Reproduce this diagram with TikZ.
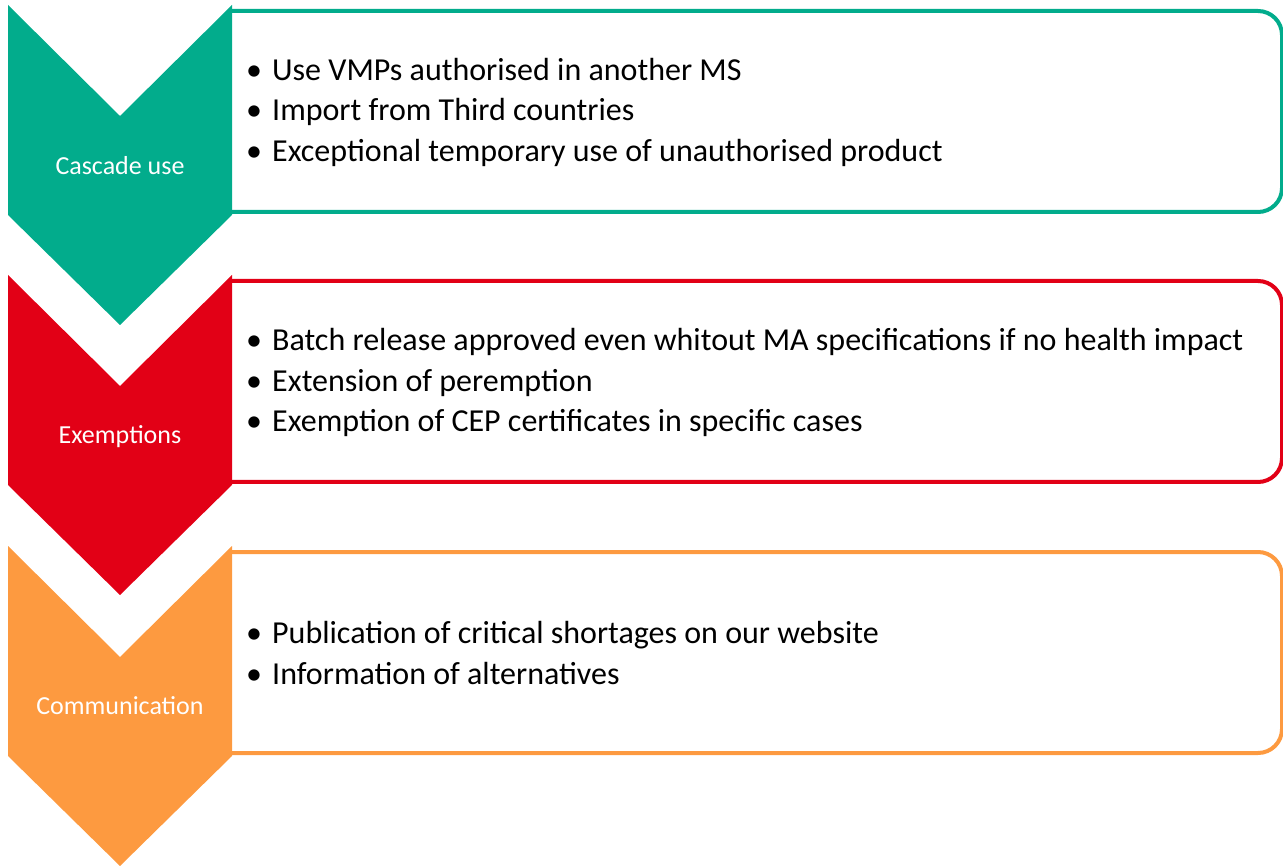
\documentclass[tikz,border=0pt]{standalone}
\usepackage{fontspec}
\setmainfont{Carlito}
\definecolor{cgreen}{RGB}{2,172,140}
\definecolor{cred}{RGB}{226,0,22}
\definecolor{corange}{RGB}{253,154,64}
\newcommand{\bul}{\makebox[26pt][l]{•}}
\begin{document}
\begin{tikzpicture}[x=1pt,y=-1pt,
  framebox/.style={line width=4pt, rounded corners=24pt},
  chevlabel/.style={text=white, font=\fontsize{26}{30}\selectfont, anchor=center},
  bullets/.style={anchor=west, align=left, inner sep=0pt, font=\fontsize{32}{40.5}\selectfont}]
\useasboundingbox (0,0) rectangle (1283,866);
% boxes
\draw[framebox, cgreen] (232,11) -- (1282,11) -- (1282,212) -- (232,212);
\draw[framebox, cred] (232,281) -- (1282,281) -- (1282,482) -- (232,482);
\draw[framebox, corange] (232,552) -- (1282,552) -- (1282,753) -- (232,753);
% chevrons
\fill[cgreen] (8,5) -- (120,116) -- (232,5) -- (232,215) -- (120,325) -- (8,215) -- cycle;
\fill[cred] (8,275) -- (120,386) -- (232,275) -- (232,485) -- (120,595) -- (8,485) -- cycle;
\fill[corange] (8,546) -- (120,657) -- (232,546) -- (232,756) -- (120,866) -- (8,756) -- cycle;
% labels
\node[chevlabel] (l1) at (120,166) {Cascade use};
\node[chevlabel] (l2) at (120,437) {Exemptions};
\node[chevlabel] (l3) at (120,706) {Communication};
% bullet texts
\node[bullets] (t1) at (246,112) {\bul Use VMPs authorised in another MS\\\bul Import from Third countries\\\bul Exceptional temporary use of unauthorised product};
\node[bullets] (t2) at (246,382.5) {\bul Batch release approved even whitout MA specifications if no health impact\\\bul Extension of peremption\\\bul Exemption of CEP certificates in specific cases};
\node[bullets] (t3) at (246,653) {\bul Publication of critical shortages on our website\\\bul Information of alternatives};
\end{tikzpicture}
\end{document}
